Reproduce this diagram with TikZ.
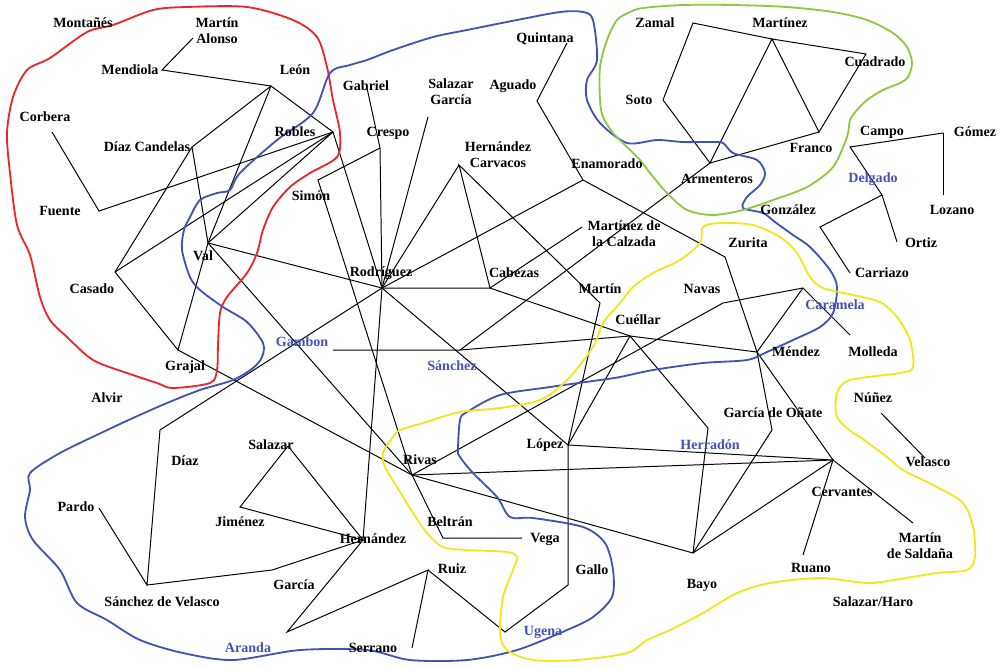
\documentclass[tikz,border=0pt]{standalone}
\usepackage{fontspec}
\setmainfont{Liberation Serif}
\definecolor{grpblue}{RGB}{66,82,180}
\definecolor{grpred}{RGB}{236,38,40}
\definecolor{grpgreen}{RGB}{142,200,64}
\definecolor{grpyellow}{RGB}{240,230,30}
\tikzset{
  lbl/.style={font=\bfseries\fontsize{10}{11.5}\selectfont, inner sep=0pt, align=center},
  glbl/.style={lbl, text=grpblue},
  tie/.style={line width=0.7pt},
  fam/.style={line width=1.3pt, line join=round},
}

\begin{document}
\begin{tikzpicture}[x=0.025cm,y=-0.025cm]
    \useasboundingbox (0,0) rectangle (1003,667);
    % points where the ties meet
    \coordinate (mAlonso) at (193,38);
    \coordinate (mendiola) at (162,70);
    \coordinate (leon) at (271,86);
    \coordinate (robles) at (333,132);
    \coordinate (dCandelas) at (192,147);
    \coordinate (corbera) at (52,132);
    \coordinate (fuente) at (99,211);
    \coordinate (val) at (208,243);
    \coordinate (casado) at (115,272);
    \coordinate (grajal) at (178,350);
    \coordinate (gabriel) at (367,88);
    \coordinate (crespo) at (380,148);
    \coordinate (simon) at (318,180);
    \coordinate (sGarcia) at (428,117);
    \coordinate (rodriguez) at (382,288);
    \coordinate (hCarvacos) at (459,165);
    \coordinate (cabezas) at (490,288);
    \coordinate (quintana) at (567,43);
    \coordinate (aguado) at (537,101);
    \coordinate (enamorado) at (583,180);
    \coordinate (mCalzada) at (582,227);
    \coordinate (martin) at (600,303);
    \coordinate (cuellar) at (630,336);
    \coordinate (sanchez) at (460,350);
    \coordinate (gambon) at (333,350);
    \coordinate (diaz) at (160,430);
    \coordinate (sVelasco) at (147,585);
    \coordinate (pardo) at (99,508);
    \coordinate (salazar) at (288,446);
    \coordinate (jimenez) at (240,507);
    \coordinate (hernandez) at (363,540);
    \coordinate (garcia) at (272,570);
    \coordinate (aranda) at (287,632);
    \coordinate (ruiz) at (428,570);
    \coordinate (serrano) at (412,648);
    \coordinate (ugena) at (505,632);
    \coordinate (gallo) at (568,585);
    \coordinate (lopez) at (568,445);
    \coordinate (rivas) at (412,475);
    \coordinate (beltran) at (443,538);
    \coordinate (vega) at (522,538);
    \coordinate (herradon) at (708,428);
    \coordinate (bayo) at (693,553);
    \coordinate (gOnate) at (772,430);
    \coordinate (mendez) at (757,352);
    \coordinate (zurita) at (725,257);
    \coordinate (navas) at (723,303);
    \coordinate (caramela) at (803,288);
    \coordinate (molleda) at (850,335);
    \coordinate (cervantes) at (833,460);
    \coordinate (ruano) at (803,555);
    \coordinate (mSaldana) at (913,523);
    \coordinate (nunez) at (881,413);
    \coordinate (velasco) at (925,458);
    \coordinate (zamal) at (693,23);
    \coordinate (martinez) at (772,39);
    \coordinate (cuadrado) at (866,54);
    \coordinate (soto) at (663,100);
    \coordinate (franco) at (819,132);
    \coordinate (armenteros) at (710,163);
    \coordinate (campo) at (850,147);
    \coordinate (gomez) at (943,133);
    \coordinate (lozano) at (943,195);
    \coordinate (delgado) at (882,195);
    \coordinate (ortiz) at (897,242);
    \coordinate (dBend) at (820,227);
    \coordinate (carriazo) at (850,273);

    % ties
    \draw[tie] (mAlonso) -- (mendiola) -- (leon) -- (robles);
    \draw[tie] (leon) -- (dCandelas) -- (casado) -- (grajal) -- (val) -- (leon);
    \draw[tie] (dCandelas) -- (val);
    \draw[tie] (corbera) -- (fuente) -- (robles);
    \draw[tie] (casado) -- (robles) -- (val);
    \draw[tie] (val) -- (rodriguez);
    \draw[tie] (val) -- (rivas);
    \draw[tie] (grajal) -- (rivas);
    \draw[tie] (robles) -- (rodriguez);
    \draw[tie] (gabriel) -- (crespo) -- (rodriguez);
    \draw[tie] (crespo) -- (simon) -- (rivas);
    \draw[tie] (sGarcia) -- (rodriguez);
    \draw[tie] (hCarvacos) -- (rodriguez) -- (cabezas) -- (hCarvacos) -- (martin) -- (lopez);
    \draw[tie] (rodriguez) -- (enamorado);
    \draw[tie] (quintana) -- (aguado) -- (enamorado) -- (zurita) -- (mendez) -- (gOnate) -- (bayo);
    \draw[tie] (cabezas) -- (mCalzada);
    \draw[tie] (armenteros) -- (sanchez);
    \draw[tie] (cabezas) -- (cuellar) -- (mendez);
    \draw[tie] (rodriguez) -- (lopez);
    \draw[tie] (gambon) -- (sanchez) -- (cuellar);
    \draw[tie] (diaz) -- (rodriguez);
    \draw[tie] (pardo) -- (sVelasco) -- (diaz);
    \draw[tie] (sVelasco) -- (garcia) -- (hernandez);
    \draw[tie] (salazar) -- (jimenez) -- (hernandez) -- (salazar);
    \draw[tie] (rodriguez) -- (hernandez) -- (aranda) -- (ruiz) -- (serrano);
    \draw[tie] (ruiz) -- (ugena) -- (gallo) -- (lopez);
    \draw[tie] (rivas) -- (beltran) -- (vega);
    \draw[tie] (rivas) -- (navas) -- (caramela) -- (molleda);
    \draw[tie] (caramela) -- (mendez) -- (cervantes) -- (mSaldana);
    \draw[tie] (rivas) -- (cervantes) -- (lopez);
    \draw[tie] (rivas) -- (bayo) -- (cervantes) -- (ruano);
    \draw[tie] (lopez) -- (cuellar) -- (herradon) -- (bayo);
    \draw[tie] (nunez) -- (velasco);
    \draw[tie] (soto) -- (zamal) -- (martinez) -- (cuadrado) -- (franco) -- (martinez) -- (armenteros) -- (soto);
    \draw[tie] (franco) -- (armenteros);
    \draw[tie] (gomez) -- (campo) -- (delgado) -- (ortiz);
    \draw[tie] (gomez) -- (lozano);
    \draw[tie] (delgado) -- (dBend) -- (carriazo);

    % family outlines
    \draw[fam,grpred] plot[smooth cycle] coordinates {(87,32) (113,25) (153,10) (187,7) (247,7) (293,20) (317,37) (327,67) (333,100) (340,133) (337,157) (310,173) (290,187) (273,207) (263,230) (257,253) (247,273) (227,297) (220,313) (218,345) (217,370) (210,383) (173,388) (157,383) (127,373) (93,360) (67,337) (50,320) (40,297) (30,255) (17,225) (10,173) (7,133) (13,97) (27,70) (50,58)};
    \draw[fam,grpblue] plot[smooth cycle] coordinates {(367,60) (393,50) (433,37) (467,30) (517,20) (560,12) (583,12) (593,20) (597,60) (587,80) (587,100) (600,123) (627,143) (657,140) (683,142) (710,142) (723,143) (733,153) (757,160) (765,173) (760,185) (747,197) (743,208) (763,213) (775,222) (793,235) (810,247) (830,270) (837,287) (833,313) (820,327) (793,340) (767,352) (747,360) (703,363) (653,370) (620,377) (600,380) (550,387) (500,395) (467,412) (460,420) (458,450) (460,457) (473,473) (497,497) (510,517) (533,518) (583,527) (605,543) (613,570) (612,597) (593,617) (567,630) (517,650) (467,660) (410,660) (367,650) (300,650) (233,660) (183,653) (140,640) (107,620) (77,603) (60,570) (33,540) (25,517) (30,490) (30,473) (60,453) (103,432) (133,418) (167,403) (200,390) (233,380) (253,368) (262,357) (263,343) (247,322) (223,307) (200,290) (190,277) (182,250) (184,230) (190,217) (200,200) (217,193) (230,190) (240,173) (277,140) (313,113) (330,73) (350,65)};
    \draw[fam,grpgreen] plot[smooth cycle] coordinates {(630,12) (643,8) (683,5) (733,5) (787,7) (833,12) (867,20) (893,33) (907,47) (912,63) (908,77) (900,83) (883,90) (867,100) (857,110) (850,120) (847,137) (833,167) (807,187) (773,200) (743,210) (713,215) (687,210) (667,193) (650,173) (640,160) (627,147) (613,133) (603,117) (600,100) (600,67) (607,40) (617,20)};
    \draw[fam,grpyellow] plot[smooth cycle] coordinates {(703,227) (720,223) (753,225) (780,237) (797,253) (810,277) (823,288) (853,295) (880,302) (897,317) (910,340) (913,367) (900,373) (850,380) (837,393) (837,417) (853,433) (860,437) (887,457) (903,470) (937,487) (963,503) (973,527) (975,557) (967,570) (937,573) (893,580) (867,583) (820,578) (770,583) (737,593) (703,613) (670,630) (647,640) (627,653) (577,660) (533,660) (507,650) (500,633) (503,597) (513,570) (517,557) (507,552) (467,550) (443,547) (427,533) (413,513) (397,487) (385,467) (383,453) (393,437) (400,430) (423,423) (460,412) (500,408) (540,400) (567,380) (593,347) (603,323) (620,303) (633,287) (653,273) (680,260) (700,243)};

    % names
    \node[lbl] (tMontanes) at (83,23) {Montañés};
    \node[lbl] (tMAlonso) at (217,31) {Martín\\Alonso};
    \node[lbl] (tMendiola) at (130,70) {Mendiola};
    \node[lbl] (tLeon) at (295,70) {León};
    \node[lbl] (tCorbera) at (45,117) {Corbera};
    \node[lbl] (tDCandelas) at (147,147) {Díaz Candelas};
    \node[lbl] (tRobles) at (295,132) {Robles};
    \node[lbl] (tGabriel) at (366,86) {Gabriel};
    \node[lbl] (tSGarcia) at (451,92) {Salazar\\García};
    \node[lbl] (tAguado) at (513,86) {Aguado};
    \node[lbl] (tQuintana) at (545,39) {Quintana};
    \node[lbl] (tCrespo) at (388,133) {Crespo};
    \node[lbl] (tHCarvacos) at (498,155) {Hernández\\Carvacos};
    \node[lbl] (tEnamorado) at (607,164) {Enamorado};
    \node[lbl] (tSimon) at (311,196) {Simón};
    \node[lbl] (tFuente) at (60,211) {Fuente};
    \node[lbl] (tVal) at (203,256) {Val};
    \node[lbl] (tRodriguez) at (381,273) {Rodríguez};
    \node[lbl] (tCabezas) at (514,273) {Cabezas};
    \node[lbl] (tMCalzada) at (624,234) {Martínez de\\la Calzada};
    \node[lbl] (tMartin) at (600,289) {Martín};
    \node[lbl] (tCasado) at (92,289) {Casado};
    \node[lbl] (tGrajal) at (185,367) {Grajal};
    \node[lbl] (tAlvir) at (107,398) {Alvir};
    \node[lbl] (tDiaz) at (185,461) {Díaz};
    \node[lbl] (tSalazar) at (271,445) {Salazar};
    \node[lbl] (tJimenez) at (240,522) {Jiménez};
    \node[lbl] (tPardo) at (76,507) {Pardo};
    \node[lbl] (tHernandez) at (373,539) {Hernández};
    \node[lbl] (tGarcia) at (294,585) {García};
    \node[lbl] (tSVelasco) at (162,602) {Sánchez de Velasco};
    \node[lbl] (tSerrano) at (373,648) {Serrano};
    \node[lbl] (tRuiz) at (452,569) {Ruiz};
    \node[lbl] (tBeltran) at (450,522) {Beltrán};
    \node[lbl] (tVega) at (545,539) {Vega};
    \node[lbl] (tRivas) at (420,460) {Rivas};
    \node[lbl] (tLopez) at (545,445) {López};
    \node[lbl] (tGallo) at (592,570) {Gallo};
    \node[lbl] (tBayo) at (702,585) {Bayo};
    \node[lbl] (tCuellar) at (638,320) {Cuéllar};
    \node[lbl] (tNavas) at (702,289) {Navas};
    \node[lbl] (tZurita) at (748,243) {Zurita};
    \node[lbl] (tMendez) at (796,352) {Méndez};
    \node[lbl] (tGOnate) at (773,413) {García de Oñate};
    \node[lbl] (tCervantes) at (842,492) {Cervantes};
    \node[lbl] (tRuano) at (811,568) {Ruano};
    \node[lbl] (tMSaldana) at (920,546) {Martín\\de Saldaña};
    \node[lbl] (tSHaro) at (873,602) {Salazar/Haro};
    \node[lbl] (tMolleda) at (873,352) {Molleda};
    \node[lbl] (tNunez) at (873,398) {Núñez};
    \node[lbl] (tVelasco) at (928,462) {Velasco};
    \node[lbl] (tGonzalez) at (788,210) {González};
    \node[lbl] (tCarriazo) at (882,273) {Carriazo};
    \node[lbl] (tOrtiz) at (921,243) {Ortiz};
    \node[lbl] (tLozano) at (952,210) {Lozano};
    \node[lbl] (tCampo) at (882,132) {Campo};
    \node[lbl] (tGomez) at (975,132) {Gómez};
    \node[lbl] (tFranco) at (811,148) {Franco};
    \node[lbl] (tArmenteros) at (717,179) {Armenteros};
    \node[lbl] (tSoto) at (639,100) {Soto};
    \node[lbl] (tZamal) at (655,23) {Zamal};
    \node[lbl] (tMartinez) at (780,23) {Martínez};
    \node[lbl] (tCuadrado) at (875,62) {Cuadrado};
    % family names
    \node[glbl] (tGambon) at (302,342) {Gambon};
    \node[glbl] (tSanchez) at (452,366) {Sánchez};
    \node[glbl] (tCaramela) at (835,305) {Caramela};
    \node[glbl] (tDelgado) at (873,179) {Delgado};
    \node[glbl] (tHerradon) at (710,445) {Herradón};
    \node[glbl] (tAranda) at (248,648) {Aranda};
    \node[glbl] (tUgena) at (543,632) {Ugena};
\end{tikzpicture}
\end{document}
